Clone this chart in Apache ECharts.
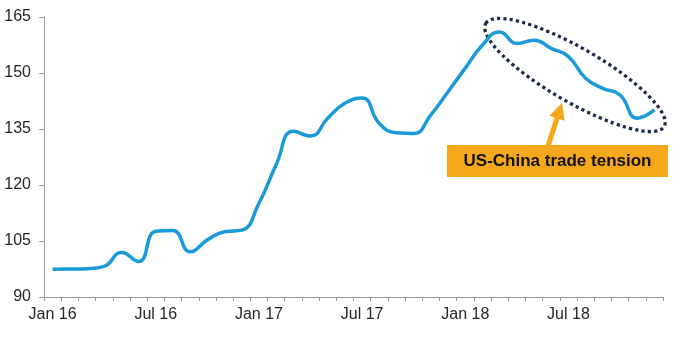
<!DOCTYPE html>
<html>
<head>
<meta charset="utf-8">
<script src="https://cdn.jsdelivr.net/npm/echarts@6/dist/echarts.min.js"></script>
<style>html,body{margin:0;padding:0;background:#fff}#c{width:700px;height:344px}</style>
</head>
<body>
<div id="c"></div>
<script>
var months = [];
var years = ['16','17','18'];
var mnames = ['Jan','Feb','Mar','Apr','May','Jun','Jul','Aug','Sep','Oct','Nov','Dec'];
years.forEach(function(y){ mnames.forEach(function(m){ months.push(m + ' ' + y); }); });

var values = [
  97.4, 97.5, 97.6, 98.2, 101.9, 99.5, 107.6, 107.8, 102.1, 105.3, 107.5, 107.9,
  115.1, 125.4, 134.4, 133.1, 137.9, 141.9, 143.3, 136.5, 134.0, 133.8, 138.8, 145.0,
  151.3, 157.5, 161.0, 157.9, 158.8, 156.6, 154.4, 148.6, 145.9, 144.1, 137.9, 140.1
];

var yMin = 90, yMax = 165, yStep = 15;
var annotationText = 'US-China trade tension';

var chart = echarts.init(document.getElementById('c'), null, {renderer: 'canvas'});
var labelFont = {fontFamily: 'Liberation Sans, Arial, sans-serif', fontSize: 16, color: '#262626'};

chart.setOption({
  animation: false,
  grid: {left: 44, right: 37, top: 17, bottom: 47, containLabel: false},
  xAxis: {
    type: 'category',
    data: months,
    boundaryGap: true,
    axisLine: {lineStyle: {color: '#9a9a9a', width: 1}},
    axisTick: {show: true, interval: 0, length: 4, lineStyle: {color: '#9a9a9a'}},
    axisLabel: Object.assign({interval: 5, margin: 10}, labelFont),
    splitLine: {show: false}
  },
  yAxis: {
    type: 'value',
    min: yMin, max: yMax, interval: yStep,
    axisLine: {show: true, lineStyle: {color: '#9a9a9a', width: 1}},
    axisTick: {show: true, length: 5, lineStyle: {color: '#9a9a9a'}},
    axisLabel: Object.assign({margin: 13}, labelFont),
    splitLine: {show: false}
  },
  series: [{
    type: 'line',
    data: values,
    smooth: 0.5,
    symbol: 'none',
    z: 5,
    lineStyle: {color: '#1a9ad6', width: 3.5}
  }]
});

// arrow
var tail = [548, 146], tip = [562, 103];
var dx = tip[0] - tail[0], dy = tip[1] - tail[1];
var L = Math.hypot(dx, dy), ux = dx / L, uy = dy / L, nx = -uy, ny = ux;
var headLen = 16, headW = 8, shaftW = 2.6;
var hb = [tip[0] - ux * headLen, tip[1] - uy * headLen];
var arrowPts = [
  [tail[0] + nx * shaftW, tail[1] + ny * shaftW],
  [hb[0] + nx * shaftW, hb[1] + ny * shaftW],
  [hb[0] + nx * headW, hb[1] + ny * headW],
  tip,
  [hb[0] - nx * headW, hb[1] - ny * headW],
  [hb[0] - nx * shaftW, hb[1] - ny * shaftW],
  [tail[0] - nx * shaftW, tail[1] - ny * shaftW]
];

chart.setOption({
  graphic: [
    {
      type: 'ellipse',
      x: 575, y: 75,
      rotation: -30 * Math.PI / 180,
      shape: {cx: 0, cy: 0, rx: 103, ry: 27},
      style: {fill: null, stroke: '#1c2b4a', lineWidth: 3.3, lineDash: [3.2, 3.2]},
      z: 1
    },
    {
      type: 'polygon',
      shape: {points: arrowPts},
      style: {fill: '#f5a81c'},
      z: 10
    },
    {
      type: 'rect',
      shape: {x: 447, y: 145, width: 221, height: 32},
      style: {fill: '#f5a81c'},
      z: 10
    },
    {
      type: 'text',
      x: 557.5, y: 161.5,
      style: {
        text: annotationText,
        fill: '#111',
        font: 'bold 17px "Liberation Sans", Arial, sans-serif',
        align: 'center',
        verticalAlign: 'middle'
      },
      z: 11
    }
  ]
});
</script>
</body>
</html>
